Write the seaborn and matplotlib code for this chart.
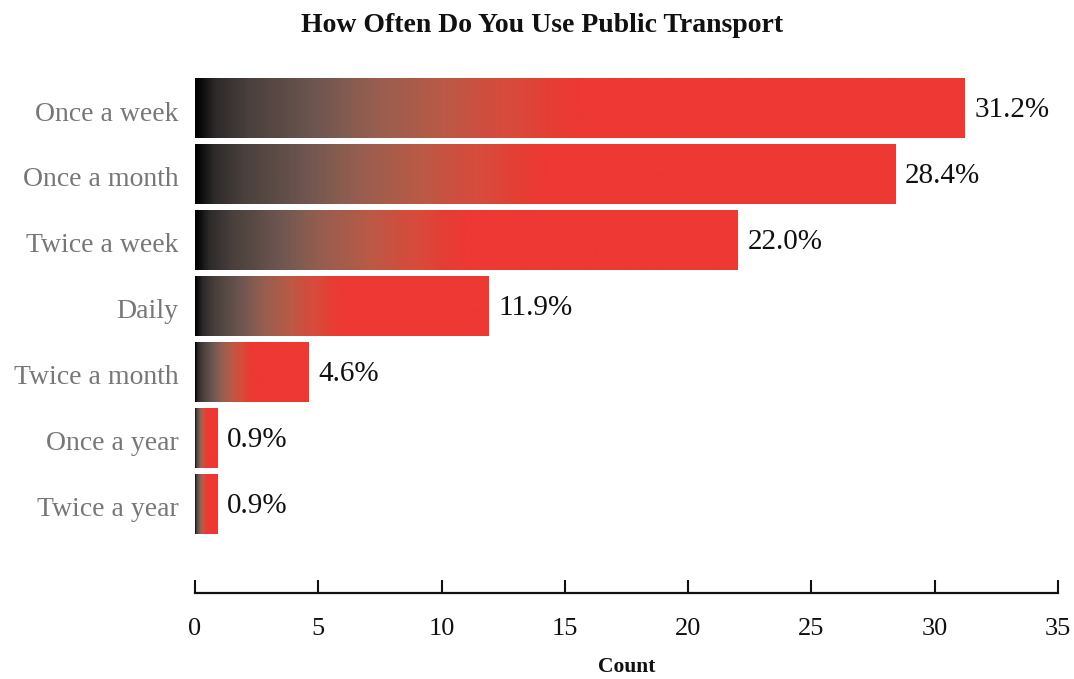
import numpy as np
import matplotlib
matplotlib.use("Agg")
import matplotlib.pyplot as plt
import matplotlib.transforms as mtransforms
from matplotlib.colors import LinearSegmentedColormap
import pandas as pd
import seaborn as sns

# Survey answers and their share of respondents
categories = ["Once a week", "Once a month", "Twice a week", "Daily",
              "Twice a month", "Once a year", "Twice a year"]
values = [31.2, 28.4, 22.0, 11.9, 4.6, 0.9, 0.9]
value_labels = ["31.2%", "28.4%", "22.0%", "11.9%", "4.6%", "0.9%", "0.9%"]
x_ticks = [0, 5, 10, 15, 20, 25, 30, 35]

sns.set_theme(style="white")
plt.rcParams["font.family"] = ["Liberation Serif", "DejaVu Serif"]

df = pd.DataFrame({"answer": categories, "count": values})

fig = plt.figure(figsize=(10.74, 6.79), dpi=100)
ax = fig.add_axes([0.1816, 0.1267, 0.8035, 0.7628])

sns.barplot(data=df, x="count", y="answer", orient="h", width=0.91,
            color="#ED3833", ax=ax)

# Black-to-red fill along each bar, reaching full red halfway along it
red = "#ED3833"
grad = LinearSegmentedColormap.from_list("fade", [
    (0.0, "#000000"), (0.025, "#2d2a2a"), (0.068, "#4a403d"),
    (0.11, "#5b4b45"), (0.155, "#6e5550"), (0.198, "#845c50"),
    (0.24, "#9a5e4f"), (0.284, "#aa5c4a"), (0.327, "#bc5946"),
    (0.37, "#cd4f3f"), (0.413, "#d94a3c"), (0.457, "#e43f34"),
    (0.5, red), (1.0, red)])
ramp = np.linspace(0, 1, 512).reshape(1, -1)
for patch in ax.patches:
    x0, y0 = patch.get_x(), patch.get_y()
    w, h = patch.get_width(), patch.get_height()
    img = ax.imshow(ramp, cmap=grad, aspect="auto", interpolation="bilinear",
                    extent=[x0, x0 + w, y0 + h, y0], zorder=2)
    img.set_clip_path(patch)
    patch.set_facecolor("none")
    patch.set_edgecolor("none")

for i, (v, lab) in enumerate(zip(values, value_labels)):
    ax.text(v + 0.4, i + 0.03, lab, va="center", ha="left", fontsize=21,
            color="#111111", zorder=3)

ax.set_xlim(0, 35)
ax.set_ylim(7.35, -0.5)
ax.set_xticks(x_ticks)
ax.set_xticklabels([str(t) for t in x_ticks])

for side in ["left", "right", "top"]:
    ax.spines[side].set_visible(False)
ax.spines["bottom"].set_color("#111111")
ax.spines["bottom"].set_linewidth(1.6)

ax.tick_params(axis="x", bottom=True, direction="in", length=9.5, width=1.5,
               color="#111111", labelsize=19, labelcolor="#111111", pad=18)
ax.tick_params(axis="y", left=False, length=0, labelsize=20,
               labelcolor="#777777", pad=12)
ax.xaxis.get_major_ticks()[0].tick1line.set_color("#cccccc")

# nudge category labels slightly down
shift = mtransforms.ScaledTranslation(0, -3 / 100, fig.dpi_scale_trans)
for lbl in ax.get_yticklabels():
    lbl.set_transform(lbl.get_transform() + shift)

ax.set_ylabel("")
ax.set_xlabel("Count", fontsize=15.5, fontweight="bold", color="#111111",
              labelpad=12)
fig.text(0.505, 0.962, "How Often Do You Use Public Transport",
         ha="center", va="center", fontsize=20, fontweight="bold",
         color="#111111")

fig.savefig("out.png", dpi=100, facecolor="white")
